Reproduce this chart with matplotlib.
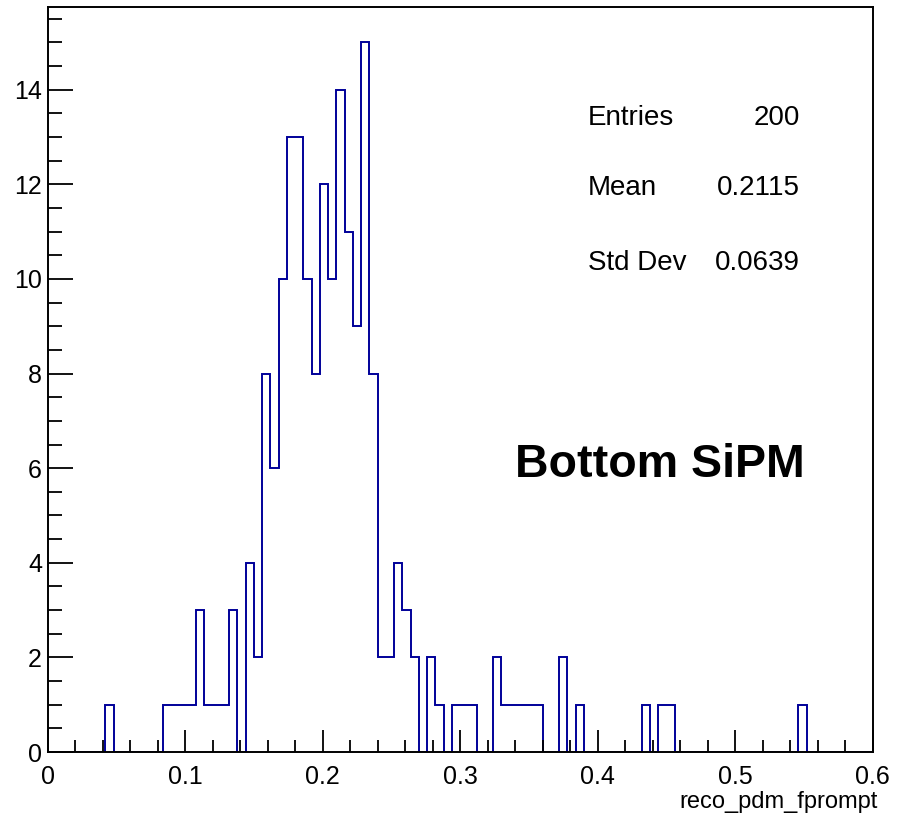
import numpy as np
import matplotlib
matplotlib.use('Agg')
import matplotlib.pyplot as plt
from matplotlib.ticker import MultipleLocator

# 100 bins from 0 to 0.6, counts
bin_edges = np.linspace(0.0, 0.6, 101)
counts = [0, 0, 0, 0, 0, 0, 0, 1, 0, 0,
          0, 0, 0, 0, 1, 1, 1, 1, 3, 1,
          1, 1, 3, 0, 4, 2, 8, 6, 10, 13,
          13, 10, 8, 12, 10, 14, 11, 9, 15, 8,
          2, 2, 4, 3, 2, 0, 2, 1, 0, 1,
          1, 1, 0, 0, 2, 1, 1, 1, 1, 1,
          0, 0, 2, 0, 1, 0, 0, 0, 0, 0,
          0, 0, 1, 0, 1, 1, 0, 0, 0, 0,
          0, 0, 0, 0, 0, 0, 0, 0, 0, 0,
          0, 1, 0, 0, 0, 0, 0, 0, 0, 0]

stat_names = ['Entries', 'Mean', 'Std Dev']
stat_values = ['200', '0.2115', '0.0639']
x_title = 'reco_pdm_fprompt'
label = 'Bottom SiPM'

W, H = 900, 818
plt.rcParams['font.family'] = ['Liberation Sans', 'DejaVu Sans']

fig = plt.figure(figsize=(W / 100, H / 100), dpi=100)
ax = fig.add_axes([47.5 / W, 66 / H, (872.7 - 47.5) / W, (752 - 7) / H])

ax.stairs(counts, bin_edges, color='#000099', linewidth=1.4, baseline=0)

ax.set_xlim(0, 0.6)
ax.set_ylim(0, max(counts) * 1.05)

ax.xaxis.set_major_locator(MultipleLocator(0.1))
ax.xaxis.set_minor_locator(MultipleLocator(0.02))
ax.yaxis.set_major_locator(MultipleLocator(2))
ax.yaxis.set_minor_locator(MultipleLocator(0.5))
ax.xaxis.set_major_formatter(plt.FuncFormatter(lambda v, p: ('%g' % round(v, 3))))

ax.tick_params(axis='x', which='major', direction='in', length=16, width=1.3,
               labelsize=18, pad=9)
ax.tick_params(axis='x', which='minor', direction='in', length=8.5, width=1.3)
ax.tick_params(axis='y', which='major', direction='in', length=18, width=1.3,
               labelsize=18, pad=4)
ax.tick_params(axis='y', which='minor', direction='in', length=10, width=1.3)
for s in ax.spines.values():
    s.set_linewidth(1.4)

# stats box text (no border)
baselines = [125, 195, 270]
for name, val, yb in zip(stat_names, stat_values, baselines):
    fig.text(588 / W, 1 - yb / H, name, fontsize=20, ha='left', va='baseline')
    fig.text(800 / W, 1 - yb / H, val, fontsize=20, ha='right', va='baseline')

fig.text(515 / W, 1 - 476.7 / H, label, fontsize=33.5, fontweight='bold',
         ha='left', va='baseline')

fig.text(878 / W, 1 - 808 / H, x_title, fontsize=17, ha='right', va='baseline')

fig.savefig('out.png', dpi=100)
